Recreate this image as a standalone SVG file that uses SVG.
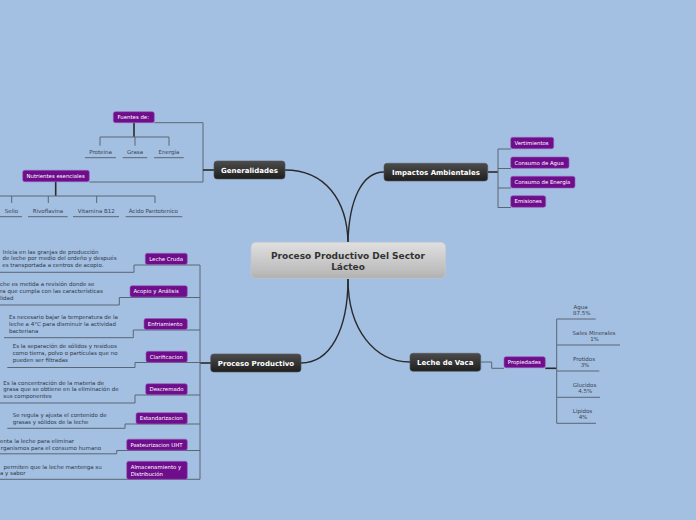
<svg xmlns="http://www.w3.org/2000/svg" width="696" height="520" viewBox="0 0 696 520">
<style>
text{font-family:"DejaVu Sans","Liberation Sans",sans-serif}
.dk{stroke:#555;stroke-width:0.6}
.dt{fill:#fff;font-weight:bold;font-size:7px;text-anchor:middle}
.pb{fill:#6e0e8c;stroke:#9a5cb4;stroke-width:0.6}
.pt{fill:#fff;font-size:5.4px}
.ct{fill:#3b4450;font-size:5.5px;text-anchor:middle}
.ds{fill:#2f3844;font-size:5.5px}
.ln{fill:none;stroke:#5b6675;stroke-width:1}
.th{fill:none;stroke:#2a2a2a;stroke-width:1.6}
.cv{fill:none;stroke:#2a2a2a;stroke-width:1.4}
</style>
<defs>
<linearGradient id="gd" x1="0" y1="0" x2="0" y2="1"><stop offset="0" stop-color="#4c4c4c"/><stop offset="1" stop-color="#1e1e1e"/></linearGradient>
<linearGradient id="gc" x1="0" y1="0" x2="0" y2="1"><stop offset="0" stop-color="#e0e0e0"/><stop offset="0.8" stop-color="#bdbdbd"/><stop offset="1" stop-color="#b0b0b0"/></linearGradient>
</defs>
<rect width="696" height="520" fill="#a3bfe2"/>
<g id="connectors">
<path class="cv" d="M285,170 C325,170 347,200 348,242"/>
<path class="cv" d="M384,172 C362,172 349,200 348,242"/>
<path class="cv" d="M301,363 C330,363 348,330 348,279"/>
<path class="cv" d="M410,362 C375,362 348,330 348,279"/>
<path class="ln" d="M154.3,122.7 H203 V182 H89.3"/>
<path class="th" d="M203,170 H214"/>
<path class="th" d="M134,122.7 V137"/>
<path class="ln" d="M100,137 H169 M100,137 V145.7 M135,137 V145.7 M169,137 V145.7"/>
<path class="ln" d="M85,157.7 H116 M122.7,157.7 H147.3 M154,157.7 H183.7"/>
<path class="th" d="M55.7,181.7 V196"/>
<path class="ln" d="M0,196 H155 M11.7,196 V203 M48.3,196 V203 M96.7,196 V203 M155,196 V203"/>
<path class="ln" d="M0,216.7 H22 M28,216.7 H67.7 M73,216.7 H119 M125.7,216.7 H182.3"/>
<path class="th" d="M488,172 H498"/>
<path class="ln" d="M498,149 V207.7 M498,149 H511 M498,168.5 H511 M498,188 H511 M498,207.5 H511"/>
<path class="th" d="M200,363 H211"/>
<path class="ln" d="M200,265 V479.3"/>
<path class="ln" d="M0,272.3 H134 V265 H200"/>
<path class="ln" d="M0,305 H119.3 V297.5 H200"/>
<path class="ln" d="M4,337.7 H133.3 V330 H200"/>
<path class="ln" d="M7.3,367.5 H135 V362.5 H200"/>
<path class="ln" d="M0,403 H135 V395 H200"/>
<path class="ln" d="M7.3,428.3 H125 V424 H200"/>
<path class="ln" d="M0,453.8 H116.7 V450.5 H200"/>
<path class="ln" d="M0,479.3 H200"/>
<path class="ln" d="M480.7,362 H491.7 V368.3 H504"/>
<path class="th" d="M545.3,368.3 H556.7"/>
<path class="ln" d="M556.7,319 V423.3 M556.7,319 H595.7 M556.7,345 H620 M556.7,371 H599.3 M556.7,397.3 H600 M556.7,423.3 H596"/>
</g>
<g id="center">
<rect x="251" y="242.3" width="194.7" height="36" rx="5" fill="url(#gc)" stroke="#c8c8c8" stroke-width="0.6"/>
<text x="348" y="259" font-size="9px" font-weight="bold" fill="#333" text-anchor="middle">Proceso Productivo Del Sector</text>
<text x="348" y="270.3" font-size="9px" font-weight="bold" fill="#333" text-anchor="middle">Lácteo</text>
</g>
<g id="generalidades">
<rect x="214" y="161" width="71" height="18" rx="3" fill="url(#gd)" class="dk"/>
<text class="dt" x="249.5" y="172.5">Generalidades</text>
</g>
<g id="fuentes">
<rect class="pb" x="113.3" y="111.7" width="41" height="11" rx="2"/>
<text class="pt" x="117.5" y="119.1">Fuentes de:</text>
</g>
<g id="proteina"><text class="ct" x="100.5" y="154">Proteina</text></g>
<g id="grasa"><text class="ct" x="135" y="154">Grasa</text></g>
<g id="energia"><text class="ct" x="169" y="154">Energía</text></g>
<g id="nutrientes">
<rect class="pb" x="22.7" y="170.3" width="66.6" height="11.4" rx="2"/>
<text class="pt" x="26.5" y="177.9">Nutrientes esenciales</text>
</g>
<g id="selio"><text class="ct" x="11.5" y="213">Selio</text></g>
<g id="rivoflavina"><text class="ct" x="48" y="213">Rivoflavina</text></g>
<g id="vitamina"><text class="ct" x="96.3" y="213">Vitamina B12</text></g>
<g id="acido"><text class="ct" x="153.3" y="213">Ácido Pantotenico</text></g>
<g id="impactos">
<rect x="384" y="163.3" width="103.7" height="17.7" rx="3" fill="url(#gd)" class="dk"/>
<text class="dt" x="436" y="174.6">Impactos Ambientales</text>
</g>
<g id="vertimientos"><rect class="pb" x="510.7" y="137.3" width="43" height="11.4" rx="2"/><text class="pt" x="514.5" y="144.9">Vertimientos</text></g>
<g id="agua"><rect class="pb" x="510.7" y="157" width="58.3" height="11.3" rx="2"/><text class="pt" x="514.5" y="164.5">Consumo de Agua</text></g>
<g id="energia2"><rect class="pb" x="510.7" y="176.3" width="64.3" height="11.7" rx="2"/><text class="pt" x="514.5" y="184">Consumo de Energía</text></g>
<g id="emisiones"><rect class="pb" x="510.7" y="195.7" width="35" height="11.6" rx="2"/><text class="pt" x="514.5" y="203.3">Emisiones</text></g>
<g id="proceso">
<rect x="210.7" y="354" width="90.3" height="18" rx="3" fill="url(#gd)" class="dk"/>
<text class="dt" x="256" y="365.5">Proceso Productivo</text>
</g>
<g id="lechecruda"><rect class="pb" x="145.3" y="253.3" width="42" height="11.2" rx="2"/><text class="pt" x="149.2" y="260.8">Leche Cruda</text>
<text class="ds" x="2.8" y="253.5">Inicia en las granjas de producción</text><text class="ds" x="2.5" y="260.3">de leche por medio del ordeño y después</text><text class="ds" x="2.3" y="267.1">es transportada a centros de acopio.</text></g>
<g id="acopio"><rect class="pb" x="130" y="285.7" width="57.3" height="11.3" rx="2"/><text class="pt" x="133.5" y="293.2">Acopio y Análisis</text>
<text class="ds" x="0" y="286.1">che es metida a revisión donde se</text><text class="ds" x="0" y="293.1">ra que cumpla con las características</text><text class="ds" x="0" y="300.1">lidad</text></g>
<g id="enfriamiento"><rect class="pb" x="144" y="318.5" width="43.3" height="11" rx="2"/><text class="pt" x="147.8" y="325.9">Enfriamiento</text>
<text class="ds" x="9" y="318.8">Es necesario bajar la temperatura de la</text><text class="ds" x="9" y="325.8">leche a 4°C para disminuir la actividad</text><text class="ds" x="9" y="332.8">bacteriana</text></g>
<g id="clarificacion"><rect class="pb" x="146" y="351.3" width="41.3" height="11" rx="2"/><text class="pt" x="149.8" y="358.7">Clarificacion</text>
<text class="ds" x="12.7" y="347.5">Es la separación de sólidos y residuos</text><text class="ds" x="12.7" y="354.5">como tierra, polvo o partículas que no</text><text class="ds" x="12.7" y="361.5">pueden ser filtradas</text></g>
<g id="descremado"><rect class="pb" x="145.7" y="383.7" width="41.6" height="11" rx="2"/><text class="pt" x="149.5" y="391.1">Descremado</text>
<text class="ds" x="3.3" y="384.5">Es la concentración de la materia de</text><text class="ds" x="3.3" y="391.3">grasa que se obtiene en la eliminación de</text><text class="ds" x="3.3" y="398.1">sus componentes</text></g>
<g id="estandarizacion"><rect class="pb" x="136" y="412.7" width="51.3" height="11.2" rx="2"/><text class="pt" x="139.8" y="420.2">Estandarizacion</text>
<text class="ds" x="12.7" y="417.1">Se regula y ajusta el contenido de</text><text class="ds" x="12.7" y="423.7">grasas y sólidos de la leche</text></g>
<g id="pasteurizacion"><rect class="pb" x="126.7" y="439.2" width="60.6" height="11" rx="2"/><text class="pt" x="130.5" y="446.6">Pasteurizacion UHT</text>
<text class="ds" x="0" y="442.6">enta la leche para eliminar</text><text class="ds" x="0.8" y="449.8">rganismos para el consumo humano</text></g>
<g id="almacenamiento"><rect class="pb" x="126.7" y="461.3" width="60.6" height="18" rx="2"/><text class="pt" x="130.7" y="469.2">Almacenamiento y</text><text class="pt" x="130.7" y="475.9">Distribución</text>
<text class="ds" x="3.5" y="469.1">permiten que la leche mantenga su</text><text class="ds" x="0" y="475.3">a y sabor</text></g>
<g id="lechevaca">
<rect x="410" y="353.3" width="70.7" height="18" rx="3" fill="url(#gd)" class="dk"/>
<text class="dt" x="445.3" y="364.8">Leche de Vaca</text>
</g>
<g id="propiedades"><rect class="pb" x="504" y="356.7" width="41.3" height="11" rx="2"/><text class="pt" x="507.8" y="364.1">Propiedades</text></g>
<g id="pagua"><text class="ct" x="580.5" y="308.5">Agua</text><text class="ct" x="581.8" y="315.1">87.5%</text></g>
<g id="psales"><text class="ct" x="594" y="334.8">Sales Minerales</text><text class="ct" x="594.5" y="340.8">1%</text></g>
<g id="pprotidos"><text class="ct" x="584" y="360.8">Protidos</text><text class="ct" x="585" y="367.1">3%</text></g>
<g id="pglucidos"><text class="ct" x="584.5" y="386.8">Glucidos</text><text class="ct" x="585.3" y="392.8">4.5%</text></g>
<g id="plipidos"><text class="ct" x="582.5" y="412.8">Lipidos</text><text class="ct" x="583" y="418.8">4%</text></g>
</svg>
